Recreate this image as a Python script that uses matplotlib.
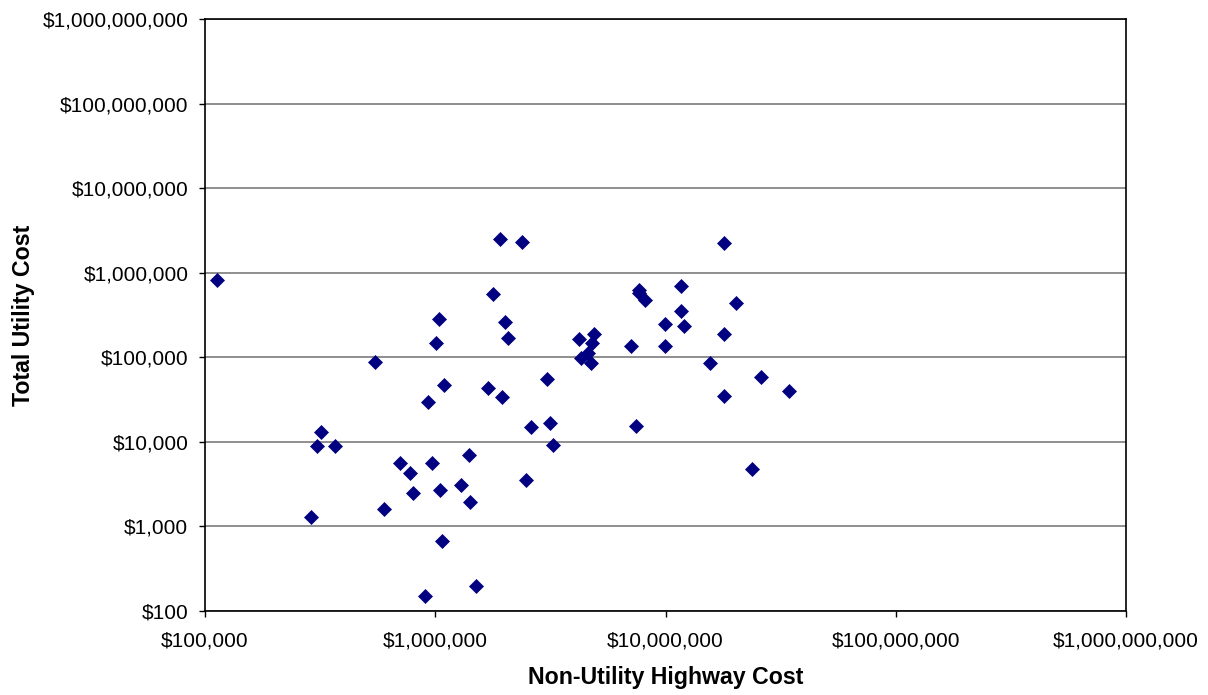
import matplotlib
matplotlib.use("Agg")
import matplotlib.pyplot as plt
from matplotlib.ticker import FuncFormatter, LogLocator, NullLocator

# Non-utility highway cost (x) and total utility cost (y)
highway_cost = [
    112700, 1915000, 2388000, 18030000, 1783000, 7710000, 7660000, 8110000,
    11640000, 20140000, 1042000, 2010000, 11640000, 9930000, 11990000, 18030000,
    1012000, 2071000, 4207000, 4876000, 4809000, 7096000, 9930000, 548000,
    4305000, 4603000, 4766000, 15560000, 1089000, 1702000, 3055000, 1945000,
    927000, 26000000, 34270000, 18030000, 320600, 3164000, 2606000, 7480000,
    307000, 366000, 3245000, 1397000, 701000, 968000, 780000, 23820000,
    2489000, 1294000, 1047000, 802000, 1413000, 600000, 289000, 1071000,
    1500000, 900000,
]
utility_cost = [
    826000, 2520000, 2320000, 2235000, 565000, 618000, 574000, 471000,
    689000, 443000, 287000, 264000, 352000, 245000, 233000, 186000,
    146000, 171000, 165000, 187000, 146000, 135000, 135000, 86900,
    96800, 111000, 85900, 84500, 46400, 42900, 54700, 33700,
    29800, 58700, 39500, 35100, 13100, 16600, 14900, 15400,
    8950, 8950, 9180, 7010, 5690, 5690, 4340, 4790,
    3560, 3050, 2710, 2480, 1950, 1600, 1280, 673,
    200, 150,
]

x_range = (1e5, 1e9)
y_range = (1e2, 1e9)

plt.rcParams['font.family'] = ['Liberation Sans', 'DejaVu Sans']


def dollars(v, pos):
    return "${:,.0f}".format(v)


fig = plt.figure(figsize=(12.08, 6.95), dpi=100)
ax = fig.add_axes([205 / 1208, 1 - 611 / 695, 921 / 1208, 592 / 695])

ax.plot(highway_cost, utility_cost, linestyle="none", marker="D",
        markersize=7, color="#000080", markeredgewidth=0.5, zorder=3)

ax.set_xscale("log")
ax.set_yscale("log")
ax.set_xlim(*x_range)
ax.set_ylim(*y_range)

ax.xaxis.set_major_locator(LogLocator(base=10, numticks=20))
ax.yaxis.set_major_locator(LogLocator(base=10, numticks=20))
ax.xaxis.set_minor_locator(NullLocator())
ax.yaxis.set_minor_locator(NullLocator())
ax.xaxis.set_major_formatter(FuncFormatter(dollars))
ax.yaxis.set_major_formatter(FuncFormatter(dollars))

ax.grid(True, axis="y", color="#707070", linewidth=1.1)
ax.set_axisbelow(True)

for side in ax.spines.values():
    side.set_color("black")
    side.set_linewidth(1.2)

ax.tick_params(axis="both", direction="out", length=4, width=1,
               labelsize=15, colors="black")
ax.tick_params(axis="x", pad=11)
ax.tick_params(axis="y", pad=8)

ax.set_xlabel("Non-Utility Highway Cost", fontsize=16.7, fontweight="bold")
ax.set_ylabel("Total Utility Cost", fontsize=16.7, fontweight="bold")
ax.xaxis.set_label_coords(0.5, -0.093)
ax.yaxis.set_label_coords(-0.185, 0.5)

fig.savefig("out.png", dpi=100)
